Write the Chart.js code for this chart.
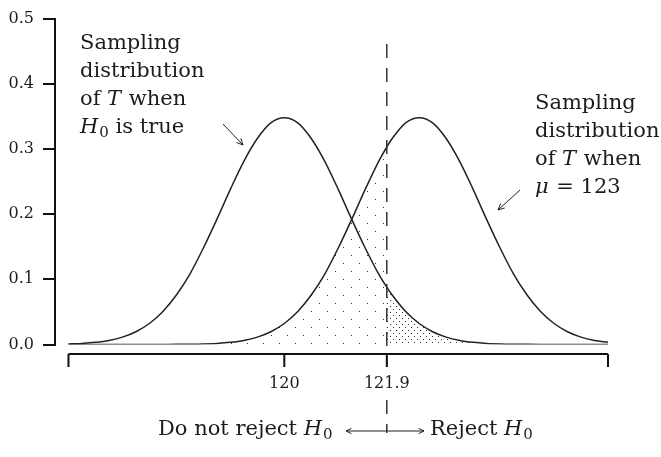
<!DOCTYPE html>
<html>
<head>
<meta charset="utf-8">
<script src="https://cdn.jsdelivr.net/npm/chart.js@4.4.0/dist/chart.umd.min.js"></script>
<style>
  html, body { margin: 0; padding: 0; background: #fff; }
  #wrap { width: 661px; height: 457px; position: relative; }
</style>
</head>
<body>
<div id="wrap"><canvas id="chart"></canvas></div>
<script>
// values of T where the two densities are read
const tValues = [116, 116.25, 116.5, 116.75, 117, 117.25, 117.5, 117.75, 118, 118.25, 118.5, 118.75,
  119, 119.25, 119.5, 119.75, 120, 120.25, 120.5, 120.75, 121, 121.25, 121.5, 121.75, 121.9,
  122, 122.25, 122.5, 122.75, 123, 123.25, 123.5, 123.75, 124, 124.25, 124.5, 124.75,
  125, 125.25, 125.5, 125.75, 126];
// density of T when H0 is true (centred on 120)
const densityH0 = [0.0008, 0.0016, 0.0033, 0.0062, 0.0113, 0.0196, 0.0322, 0.0506, 0.0759, 0.108, 0.148, 0.192,
  0.238, 0.281, 0.316, 0.340, 0.348, 0.340, 0.316, 0.281, 0.238, 0.192, 0.148, 0.108, 0.088,
  0.0759, 0.0506, 0.0322, 0.0196, 0.0113, 0.0062, 0.0033, 0.0016, 0.0008, 0.0004, 0.0002, 0.0001,
  0, 0, 0, 0, 0];
// density of T when mu = 123
const densityAlt = [0, 0, 0, 0, 0, 0, 0, 0.0001, 0.0002, 0.0004, 0.0008, 0.0016,
  0.0033, 0.0062, 0.0113, 0.0196, 0.0322, 0.0506, 0.0759, 0.108, 0.148, 0.192, 0.238, 0.281, 0.303,
  0.316, 0.340, 0.348, 0.340, 0.316, 0.281, 0.238, 0.192, 0.148, 0.108, 0.0759, 0.0506,
  0.0322, 0.0196, 0.0113, 0.0062, 0.0033];
const cutoff = 121.9;
const yTicks = [0, 0.1, 0.2, 0.3, 0.4, 0.5];
const lowerTicks = [116, 120, 121.9, 126];
const lowerLabels = ['', '120', '121.9', ''];

const serif = 'DejaVu Serif';
const ink = '#1c1c1c';

const canvas = document.getElementById('chart');
const c2d = canvas.getContext('2d');

// small tiles of dots used as fill patterns
function dotPattern(size, dots, color) {
  const tile = document.createElement('canvas');
  tile.width = size;
  tile.height = size;
  const g = tile.getContext('2d');
  g.fillStyle = color;
  dots.forEach(([x, y]) => g.fillRect(x, y, 1, 1));
  return c2d.createPattern(tile, 'repeat');
}
const sparseDots = dotPattern(16, [[7, 7], [15, 15]], '#333');
const denseDots = dotPattern(6, [[0, 0], [3, 3]], '#333');
const none = 'rgba(0,0,0,0)';

const pts = ys => tValues.map((t, i) => ({ x: t, y: ys[i] }));

// text made of runs: plain, italic, subscript
function drawRuns(ctx, runs, x, y) {
  runs.forEach(r => {
    const size = r.sub ? 15 : 21;
    ctx.font = (r.it ? 'italic ' : '') + size + 'px "' + serif + '"';
    ctx.fillText(r.t, x, y + (r.sub ? 4 : 0));
    x += ctx.measureText(r.t).width + (r.it ? 1 : 0);
  });
  return x;
}

function arrow(ctx, x1, y1, x2, y2, head) {
  const a = Math.atan2(y2 - y1, x2 - x1);
  ctx.beginPath();
  ctx.moveTo(x1, y1);
  ctx.lineTo(x2, y2);
  ctx.moveTo(x2 - head * Math.cos(a - 0.45), y2 - head * Math.sin(a - 0.45));
  ctx.lineTo(x2, y2);
  ctx.lineTo(x2 - head * Math.cos(a + 0.45), y2 - head * Math.sin(a + 0.45));
  ctx.stroke();
}

const overlay = {
  id: 'overlay',
  afterDraw(chart) {
    const { ctx, scales: { x } } = chart;
    const cx = x.getPixelForValue(cutoff);
    ctx.save();

    // critical value line, broken around the tick label
    ctx.strokeStyle = '#333';
    ctx.lineWidth = 1.5;
    ctx.setLineDash([14, 10]);
    ctx.beginPath();
    ctx.moveTo(cx, 44);
    ctx.lineTo(cx, 367);
    ctx.moveTo(cx, 400);
    ctx.lineTo(cx, 433);
    ctx.stroke();
    ctx.setLineDash([]);

    // lower T axis
    const ay = 354;
    ctx.strokeStyle = '#111';
    ctx.lineWidth = 2;
    ctx.beginPath();
    ctx.moveTo(x.getPixelForValue(lowerTicks[0]), ay);
    ctx.lineTo(x.getPixelForValue(lowerTicks[lowerTicks.length - 1]), ay);
    lowerTicks.forEach(v => {
      const px = x.getPixelForValue(v);
      ctx.moveTo(px, ay);
      ctx.lineTo(px, ay + 13);
    });
    ctx.stroke();
    ctx.fillStyle = ink;
    ctx.font = '16px "' + serif + '"';
    ctx.textAlign = 'center';
    lowerTicks.forEach((v, i) => {
      if (lowerLabels[i]) ctx.fillText(lowerLabels[i], x.getPixelForValue(v), 388);
    });

    // annotations
    ctx.textAlign = 'left';
    const T = { t: 'T', it: true };
    const H = { t: 'H', it: true };
    const zero = { t: '0', sub: true };
    const left = [
      [{ t: 'Sampling' }],
      [{ t: 'distribution' }],
      [{ t: 'of ' }, T, { t: ' when' }],
      [H, zero, { t: ' is true' }]
    ];
    const right = [
      [{ t: 'Sampling' }],
      [{ t: 'distribution' }],
      [{ t: 'of ' }, T, { t: ' when' }],
      [{ t: 'μ', it: true }, { t: ' = 123' }]
    ];
    left.forEach((runs, i) => drawRuns(ctx, runs, 80, 49 + i * 28));
    right.forEach((runs, i) => drawRuns(ctx, runs, 535, 109 + i * 28));

    ctx.strokeStyle = '#222';
    ctx.lineWidth = 1;
    arrow(ctx, 223, 124, 243, 145, 7);
    arrow(ctx, 520, 190, 498, 210, 7);

    // decision regions under the axis
    drawRuns(ctx, [{ t: 'Do not reject ' }, H, zero], 158, 435);
    arrow(ctx, cx, 431, 346, 431, 6);
    arrow(ctx, cx, 431, 424, 431, 6);
    drawRuns(ctx, [{ t: 'Reject ' }, H, zero], 430, 435);

    ctx.restore();
  }
};

new Chart(canvas, {
  type: 'line',
  data: {
    datasets: [
      {
        label: 'H0 true',
        data: pts(densityH0),
        borderColor: '#222',
        borderWidth: 1.5,
        pointRadius: 0,
        cubicInterpolationMode: 'monotone',
        fill: 'origin',
        backgroundColor: none,
        segment: {
          backgroundColor: ctx => ctx.p0.parsed.x >= cutoff ? denseDots : none
        }
      },
      {
        label: 'mu = 123',
        data: pts(densityAlt),
        borderColor: '#222',
        borderWidth: 1.5,
        pointRadius: 0,
        cubicInterpolationMode: 'monotone',
        fill: 'origin',
        backgroundColor: none,
        segment: {
          backgroundColor: ctx => ctx.p1.parsed.x <= cutoff ? sparseDots : none
        }
      }
    ]
  },
  options: {
    responsive: true,
    maintainAspectRatio: false,
    animation: false,
    layout: { padding: { top: 15, right: 53, bottom: 112.5, left: 0 } },
    plugins: {
      legend: { display: false },
      tooltip: { enabled: false }
    },
    scales: {
      x: {
        type: 'linear',
        min: 115.75,
        max: 126,
        display: false
      },
      y: {
        min: 0,
        max: 0.5,
        afterFit: s => { s.width = 55; },
        afterBuildTicks: s => { s.ticks = yTicks.map(v => ({ value: v })); },
        ticks: {
          callback: v => v.toFixed(1),
          font: { family: serif, size: 16 },
          color: ink,
          padding: 9
        },
        grid: { drawOnChartArea: false, drawTicks: true, tickLength: 12, color: '#111', lineWidth: 2 },
        border: { display: true, color: '#111', width: 2 }
      }
    }
  },
  plugins: [overlay]
});
</script>
</body>
</html>
